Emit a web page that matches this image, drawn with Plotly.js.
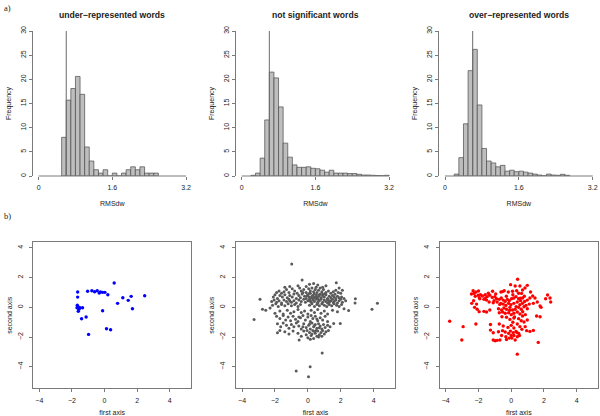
<!DOCTYPE html>
<html><head><meta charset="utf-8">
<script src="https://cdn.plot.ly/plotly-3.0.1.min.js"></script>
<style>html,body{margin:0;padding:0;background:#fff}#chart{width:600px;height:416px}</style>
</head><body><div id="chart"></div>
<script>
// ---------- DATA ----------
const histTitles = ["under\u2212represented words", "not significant words", "over\u2212represented words"];
const histXLabel = "RMSdw";
const histYLabel = "Frequency";
const histXTicks = [0, 1.6, 3.2];
const histXTickText = ["0", "1.6", "3.2"];
const histYTicks = [0, 5, 10, 15, 20, 25, 30];
const binWidth = 0.1;

const underBinStart = 0.5;
const underFreq = [8.0, 15.7, 18.1, 20.6, 16.9, 6.0, 3.1, 1.3, 0.6, 1.3, 0, 0.6, 0, 0.6, 1.3, 1.9, 1.3, 1.9, 0.6, 0.6, 0.6];

const nsBinStart = 0.2;
const nsFreq = [0.15, 0.6, 3.7, 11.6, 21.5, 20.3, 14.3, 6.8, 3.9, 2.3, 1.8, 1.8, 1.9, 1.6, 1.5, 1.2, 0.8, 1.2, 0.6, 0.6, 0.6, 0.5, 0.5, 0.35, 0.2, 0.2, 0.15, 0.1, 0.05, 0.15];

const overBinStart = 0.2;
const overFreq = [0.4, 3.8, 10.8, 21.8, 26.2, 14.7, 5.7, 3.1, 2.7, 1.9, 2.2, 1.0, 1.2, 0.9, 1.0, 0.8, 0.6, 0.4, 0.2, 0.05, 0.4, 0.2, 0.15, 0.35, 0.15];

const cutoffs = [0.6, 0.6, 0.6];

const scatterXLabel = "first axis";
const scatterYLabel = "second axis";
const scatterTicks = [-4, -2, 0, 2, 4];

const underPoints = [[0.59,1.64],[-1.04,1.08],[-0.78,1.12],[-0.61,1.05],[-0.45,1.12],[-0.33,0.96],[-0.25,1.03],[-0.12,1.01],[0.02,1.01],[0.20,0.85],[-1.65,1.03],[-1.65,0.69],[0.80,0.27],[1.12,0.65],[1.45,0.47],[1.63,0.74],[1.71,-0.09],[2.46,0.78],[-1.67,0.15],[-1.61,0.02],[-1.69,-0.03],[-1.51,-0.03],[-1.35,-0.03],[-1.57,-0.13],[-1.61,-0.27],[-1.13,-0.65],[-1.41,-0.77],[-0.12,-0.23],[0.12,-1.44],[0.37,-1.51],[-0.98,-1.82]];

const nsPoints = [
[-0.35,1.84],[1.73,1.66],[0.1,1.55],[0.6,1.5],[-0.6,1.45],[1.1,1.45],[0.35,1.6],[-1.1,1.4],[0.9,1.35],[-1.4,1.35],[1.9,1.3],[2.1,1.15],[-0.1,1.4],
[-1.9,1.0],[-1.75,1.1],[-1.6,0.95],[-1.45,1.05],[-1.3,1.2],[-1.15,1.0],[-0.95,1.25],[-0.8,1.1],[-0.65,0.95],[-0.5,1.3],[-0.4,1.1],[-0.25,1.2],[-0.1,1.0],[0.05,1.25],[0.15,1.1],[0.25,1.3],[0.35,1.05],[0.45,1.2],[0.55,1.0],[0.65,1.15],[0.75,1.3],[0.85,1.05],[0.95,1.2],[1.1,1.0],[1.25,1.1],[1.4,0.95],[1.55,1.05],[1.7,1.15],[1.85,1.0],[2.0,0.95],[0.1,0.95],[0.5,1.35],[-0.3,1.0],[0.9,0.9],
[-2.1,0.7],[-2.0,0.85],[-1.85,0.6],[-1.7,0.8],[-1.55,0.7],[-1.4,0.85],[-1.25,0.65],[-1.1,0.8],[-0.95,0.7],[-0.85,0.9],[-0.7,0.6],[-0.55,0.8],[-0.45,0.65],[-0.35,0.9],[-0.2,0.75],[-0.1,0.6],[0.0,0.85],[0.08,0.7],[0.15,0.95],[0.22,0.65],[0.3,0.8],[0.38,0.9],[0.45,0.7],[0.52,0.85],[0.6,0.6],[0.68,0.75],[0.75,0.9],[0.82,0.65],[0.9,0.8],[1.0,0.7],[1.1,0.85],[1.2,0.6],[1.3,0.75],[1.4,0.65],[1.5,0.8],[1.6,0.7],[1.7,0.6],[1.8,0.75],[1.9,0.65],[2.05,0.7],[2.2,0.6],[0.25,0.75],[0.55,0.72],[0.7,0.85],[0.35,0.62],[-0.05,0.78],[1.05,0.92],[1.65,0.88],
[-2.2,0.4],[-2.05,0.5],[-1.9,0.35],[-1.75,0.45],[-1.6,0.3],[-1.45,0.5],[-1.3,0.4],[-1.15,0.55],[-1.0,0.35],[-0.85,0.45],[-0.7,0.3],[-0.55,0.5],[-0.4,0.4],[-0.25,0.55],[-0.15,0.35],[0.0,0.45],[0.1,0.55],[0.2,0.35],[0.3,0.5],[0.4,0.4],[0.5,0.55],[0.6,0.35],[0.7,0.45],[0.8,0.55],[0.9,0.35],[1.0,0.5],[1.1,0.4],[1.2,0.55],[1.3,0.35],[1.4,0.45],[1.5,0.55],[1.6,0.4],[1.7,0.5],[1.8,0.3],[1.9,0.45],[2.0,0.55],[2.1,0.35],[2.3,0.45],[0.15,0.42],[0.65,0.52],[1.25,0.48],[1.55,0.32],[-1.1,0.42],
[-2.15,0.15],[-1.95,0.25],[-1.8,0.05],[-1.6,0.2],[-1.4,0.1],[-1.2,0.25],[-1.0,0.1],[-0.8,0.2],[-0.6,0.05],[-0.45,0.2],[0.1,0.15],[0.25,0.25],[0.4,0.05],[0.55,0.2],[0.7,0.1],[0.85,0.25],[1.0,0.15],[1.15,0.05],[1.3,0.2],[1.45,0.1],[1.6,0.25],[1.75,0.15],[1.9,0.05],[2.05,0.2],[1.2,0.3],[0.6,0.28],
[2.89,0.58],[2.87,0.29],[2.48,-0.22],[3.90,-0.13],[4.23,0.27],[-2.91,0.54],[-2.76,-0.13],[-2.56,-0.2],[-3.27,-0.81],[-0.98,2.92],[2.2,-0.1],[1.5,-0.2],[1.8,-0.3],[-2.3,-0.05],
[-2.0,-0.4],[-1.7,-0.25],[-1.5,-0.45],[-1.25,-0.2],[-1.05,-0.4],[-0.85,-0.3],[-0.6,-0.15],[-0.4,-0.35],[-0.2,-0.25],[0.0,-0.45],[0.2,-0.2],[0.4,-0.35],[0.6,-0.15],[0.8,-0.4],[1.0,-0.25],[1.2,-0.45],
[-1.9,-0.6],[-1.7,-0.75],[-1.5,-0.55],[-1.35,-0.85],[-1.2,-0.65],[-1.05,-0.9],[-0.9,-0.6],[-0.75,-0.8],[-0.6,-0.95],[-0.45,-0.7],[-0.3,-0.55],[-0.15,-0.85],[0.0,-0.65],[0.15,-0.95],[0.3,-0.75],[0.45,-0.6],[0.6,-0.9],[0.75,-0.7],[0.9,-0.85],[1.05,-0.6],[1.2,-0.95],[0.2,-0.55],[-0.55,-0.65],[0.55,-0.78],
[-1.85,-1.1],[-1.65,-1.3],[-1.5,-1.05],[-1.3,-1.2],[-1.15,-1.4],[-1.0,-1.15],[-0.85,-1.3],[-0.7,-1.05],[-0.55,-1.25],[-0.4,-1.45],[-0.25,-1.1],[-0.1,-1.35],[0.05,-1.2],[0.15,-1.45],[0.25,-1.05],[0.35,-1.3],[0.45,-1.15],[0.55,-1.4],[0.65,-1.1],[0.75,-1.25],[0.85,-1.45],[0.95,-1.15],[1.05,-1.35],[1.2,-1.2],[1.35,-1.3],[1.57,-1.08],[1.97,-1.08],[0.4,-1.22],[0.7,-1.38],[0.1,-1.12],[-0.3,-1.3],
[-1.85,-1.71],[-1.7,-1.55],[-1.4,-1.65],[-1.15,-1.8],[-0.9,-1.6],[-0.6,-1.75],[-0.4,-1.95],[-0.25,-1.6],[-0.1,-1.85],[0.0,-2.05],[0.1,-1.7],[0.2,-1.9],[0.3,-1.55],[0.35,-2.1],[0.45,-1.75],[0.55,-1.95],[0.6,-1.6],[0.7,-1.85],[0.8,-1.7],[0.9,-1.55],[1.0,-1.8],[1.1,-1.65],[1.25,-1.55],[-0.53,-2.2],[0.15,-2.15],[0.5,-1.55],[0.25,-1.8],[0.65,-2.0],[0.85,-1.95],[-0.05,-1.55],[0.4,-1.62],
[0.87,-3.08],[0.14,-4.0],[-0.71,-4.29],[0.04,-4.67]
];

const overPoints = [
[0.39,1.89],[-0.04,1.53],[0.24,1.44],[0.53,1.44],[0.98,1.48],[0.84,1.30],[0.69,1.17],[-0.43,1.12],[-0.18,1.03],[0.08,1.08],[0.33,1.12],[0.63,0.94],[1.18,1.03],[-1.14,1.08],[-0.63,1.03],[-0.53,1.06],[-2.33,1.12],[-2.43,0.90],[-2.27,0.94],[-2.16,1.03],
[-2.02,0.81],[-1.88,0.85],[-1.76,0.76],[-1.59,0.85],[-1.47,0.72],[-1.31,0.81],[-1.16,0.67],[-1.0,0.72],[-0.90,0.58],[-0.73,0.54],[-0.61,0.63],[-0.49,0.49],[-0.37,0.40],[-0.24,0.54],[-0.12,0.45],[0.02,0.58],[0.16,0.63],[0.29,0.72],[0.45,0.58],[0.57,0.45],[0.69,0.63],[0.82,0.40],[0.98,0.49],[1.14,0.63],[1.31,0.76],[1.45,0.63],[1.59,0.36],[1.76,0.09],
[-1.92,0.58],[-1.67,0.54],[-1.51,0.49],[-1.35,0.36],[-1.10,0.31],[-0.86,0.36],[-0.63,0.27],[-0.49,0.22],[-0.33,0.13],[-0.16,0.27],[-0.02,0.18],[0.16,0.27],[0.37,0.36],[0.53,0.18],[0.69,0.27],[0.90,0.13],[1.10,0.22],[1.35,0.27],
[-2.41,0.27],[-2.12,0.22],[-2.24,0.0],[-2.08,-0.13],[-1.96,-0.29],[-1.67,-0.27],[-1.51,-0.31],[-1.31,-0.18],
[-0.78,-0.09],[-0.59,-0.18],[-0.45,-0.04],[-0.29,-0.13],[-0.08,0.0],[0.08,-0.18],[0.24,-0.13],[0.45,0.0],[0.61,-0.13],[0.78,0.04],[0.98,-0.09],
[-0.73,-0.36],[-0.53,-0.31],[-0.37,-0.40],[-0.16,-0.36],[0.0,-0.49],[0.16,-0.40],[0.37,-0.31],[0.53,-0.45],[0.69,-0.58],[0.86,-0.49],
[-0.57,-0.63],[-0.29,-0.67],[-0.08,-0.81],[0.16,-0.72],[0.45,-0.76],[0.61,-0.90],[0.78,-0.99],[0.98,-0.85],
[1.55,-0.58],[1.76,-0.63],[1.82,0.0],[2.10,0.58],[2.22,0.83],[2.37,0.63],[2.41,0.36],
[-3.76,-0.94],[-2.94,-1.30],[-2.16,-1.12],[-3.02,-2.20],[-1.27,-1.15],[-1.27,-1.53],[-0.73,-1.12],[-0.49,-1.26],[-0.20,-1.35],[0.0,-1.21],[0.16,-1.39],[0.37,-1.12],[0.53,-1.30],[0.65,-1.48],[0.94,-1.57],[1.14,-1.62],
[-0.53,-1.57],[-0.37,-1.66],[-0.16,-1.75],[0.0,-1.89],[0.12,-1.71],[0.29,-1.62],[0.45,-1.75],
[-0.33,-1.98],[-0.29,-2.16],[-0.12,-2.07],[0.04,-2.07],[0.16,-1.89],[0.24,-2.20],[0.37,-1.98],
[-1.10,-2.20],[-0.98,-2.25],[-0.86,-2.22],[-0.69,-2.20],[-0.59,-1.89],[-0.78,-1.64],[-1.10,-1.71],
[1.65,-2.36],[0.37,-3.15],
[-2.2,0.75],[-1.95,0.65],[-1.6,0.62],[-1.4,0.95],[-0.95,0.9],[-0.3,0.75],[0.1,0.85],[0.45,0.95],[0.8,0.75],[-0.7,0.2],[0.3,0.05],[0.7,-0.3],[-0.1,-0.2],[0.1,-1.0],[0.35,-1.7],[0.5,-1.9],[-0.05,-1.6],[0.85,-1.3],[1.35,-1.55],[-2.3,0.45],[-2.0,1.1],[-1.05,0.45],[0.2,-0.65],[0.55,0.62]
];

// ---------- STYLE / LAYOUT ----------
const W = 600, H = 416;
const FONT = "Liberation Sans, Arial, Helvetica, sans-serif";
const LINE = "#7a7a7a";
const TXT = "#222222";
const px = (a, b) => [a / W, b / W];
const py = (top, bottom) => [1 - bottom / H, 1 - top / H];

const histCols = [[32.7, 191.9], [235.8, 395.0], [439.1, 598.6]];
const histRows = [31, 176];
const scatCols = [[33.3, 191.0], [236.0, 395.0], [439.7, 598.0]];
const scatRows = [242.3, 388.3];

const hists = [
  {start: underBinStart, freq: underFreq},
  {start: nsBinStart, freq: nsFreq},
  {start: overBinStart, freq: overFreq}
];
const scatters = [
  {pts: underPoints, color: "#0000ff", size: 3.4},
  {pts: nsPoints, color: "#5a5a5a", size: 3.0},
  {pts: overPoints, color: "#ff0000", size: 3.4}
];

const traces = [];
const layout = {
  width: W, height: H,
  margin: {l: 0, r: 0, t: 0, b: 0},
  paper_bgcolor: "#ffffff", plot_bgcolor: "#ffffff",
  showlegend: false, hovermode: false,
  font: {family: FONT, size: 7, color: TXT},
  annotations: [], shapes: []
};

hists.forEach((h, i) => {
  const n = i + 1;
  const xa = "x" + n, ya = "y" + n;
  traces.push({
    type: "bar", xaxis: xa, yaxis: ya,
    x: h.freq.map((_, k) => h.start + binWidth * (k + 0.5)),
    y: h.freq, width: binWidth,
    marker: {color: "#bebebe", line: {color: "#4a4a4a", width: 0.7}}
  });
  traces.push({
    type: "scatter", mode: "lines", xaxis: xa, yaxis: ya,
    x: [cutoffs[i], cutoffs[i]], y: [histYTicks[0], histYTicks[histYTicks.length - 1]],
    line: {color: "#6a6a6a", width: 1}
  });
  layout["xaxis" + n] = {
    domain: px(...histCols[i]), anchor: ya, range: [-0.128, 3.328],
    tickvals: histXTicks, ticktext: histXTickText,
    ticks: "outside", ticklen: 3, tickcolor: LINE, tickwidth: 1,
    ticklabelstandoff: 2,
    showline: false, zeroline: false, showgrid: false,
    tickfont: {size: 7, color: TXT},
    title: {text: histXLabel, font: {size: 7, color: TXT}, standoff: 10}
  };
  layout["yaxis" + n] = {
    domain: py(...histRows), anchor: xa, range: [0, 30],
    tickvals: histYTicks, tickangle: -90,
    ticks: "outside", ticklen: 3, tickcolor: LINE, tickwidth: 1,
    showline: true, linecolor: LINE, linewidth: 1,
    zeroline: false, showgrid: false,
    tickfont: {size: 7, color: TXT},
    title: {text: histYLabel, font: {size: 7, color: TXT}, standoff: 7}
  };
  layout.shapes.push({
    type: "line", xref: xa, yref: ya + " domain",
    x0: histXTicks[0], x1: histXTicks[histXTicks.length - 1], y0: 0, y1: 0,
    line: {color: LINE, width: 1}
  });
  layout.annotations.push({
    text: "<b>" + histTitles[i] + "</b>", xref: "paper", yref: "paper",
    x: (histCols[i][0] + histCols[i][1]) / 2 / W, y: 1 - 15 / H,
    xanchor: "center", yanchor: "middle", showarrow: false,
    font: {size: 8.6, color: TXT}
  });
});

scatters.forEach((s, i) => {
  const n = i + 4;
  const xa = "x" + n, ya = "y" + n;
  traces.push({
    type: "scatter", mode: "markers", xaxis: xa, yaxis: ya,
    x: s.pts.map(p => p[0]), y: s.pts.map(p => p[1]),
    marker: {color: s.color, size: s.size, line: {width: 0}}
  });
  layout["xaxis" + n] = {
    domain: px(...scatCols[i]), anchor: ya, range: [-4.37, 5.3],
    tickvals: scatterTicks,
    ticks: "outside", ticklen: 3, tickcolor: LINE, tickwidth: 1,
    ticklabelstandoff: 2,
    showline: true, mirror: true, linecolor: LINE, linewidth: 1,
    zeroline: false, showgrid: false,
    tickfont: {size: 7, color: TXT},
    title: {text: scatterXLabel, font: {size: 7, color: TXT}, standoff: 7}
  };
  layout["yaxis" + n] = {
    domain: py(...scatRows), anchor: xa, range: [-5.45, 4.38],
    tickvals: scatterTicks, tickangle: -90,
    ticks: "outside", ticklen: 3, tickcolor: LINE, tickwidth: 1,
    ticklabelstandoff: 4,
    showline: true, mirror: true, linecolor: LINE, linewidth: 1,
    zeroline: false, showgrid: false,
    tickfont: {size: 7, color: TXT},
    title: {text: scatterYLabel, font: {size: 7, color: TXT}, standoff: 3}
  };
});

layout.annotations.push(
  {text: "a)", xref: "paper", yref: "paper", x: 2 / W, y: 1 - 8 / H, xanchor: "left", yanchor: "middle",
   showarrow: false, font: {family: "Liberation Serif, Times New Roman, serif", size: 8.5, color: TXT}},
  {text: "b)", xref: "paper", yref: "paper", x: 2 / W, y: 1 - 216 / H, xanchor: "left", yanchor: "middle",
   showarrow: false, font: {family: "Liberation Serif, Times New Roman, serif", size: 8.5, color: TXT}}
);

Plotly.newPlot("chart", traces, layout, {staticPlot: true, displayModeBar: false});
</script>
</body></html>
